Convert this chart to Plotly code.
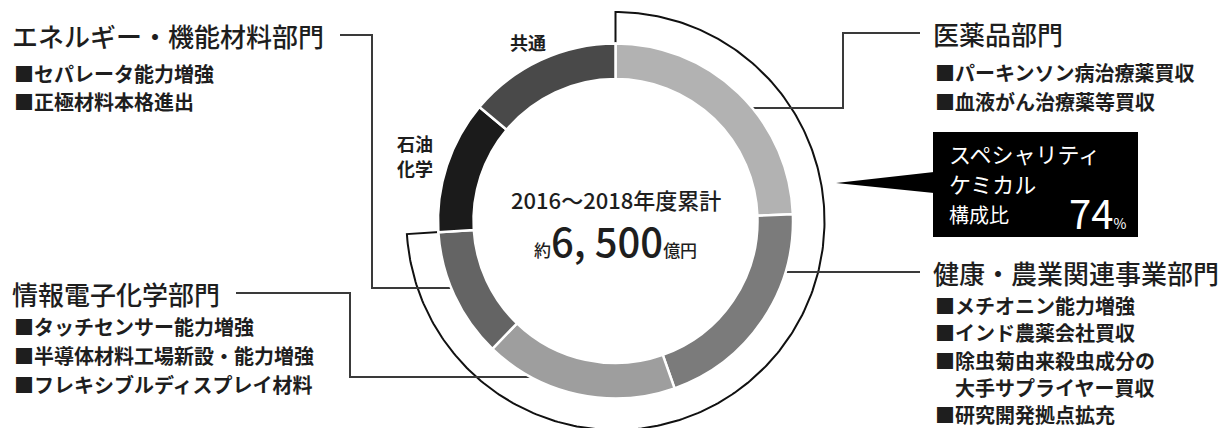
import numpy as np
import plotly.graph_objects as go

W, H = 1224, 428

# ---- data ----
segments = ["医薬品", "健康・農業関連事業", "情報電子化学", "エネルギー・機能材料", "石油化学", "共通"]
shares = [24.4, 20.2, 17.6, 11.8, 12.1, 13.9]
colors = ["#b2b2b2", "#7b7b7b", "#9e9e9e", "#646464", "#1b1b1b", "#494949"]
specialty = ["医薬品", "健康・農業関連事業", "情報電子化学", "エネルギー・機能材料"]
specialty_share_label = "74"
center_title = "2016～2018年度累計"
center_value = "6, 500"

titles = {
    "エネルギー・機能材料": "エネルギー・機能材料部門",
    "情報電子化学": "情報電子化学部門",
    "医薬品": "医薬品部門",
    "健康・農業関連事業": "健康・農業関連事業部門",
}
bullets = {
    "エネルギー・機能材料": ["■セパレータ能力増強", "■正極材料本格進出"],
    "情報電子化学": ["■タッチセンサー能力増強", "■半導体材料工場新設・能力増強", "■フレキシブルディスプレイ材料"],
    "医薬品": ["■パーキンソン病治療薬買収", "■血液がん治療薬等買収"],
    "健康・農業関連事業": ["■メチオニン能力増強", "■インド農薬会社買収", "■除虫菊由来殺虫成分の",
                       "　大手サプライヤー買収", "■研究開発拠点拡充"],
}

FONT = "Noto Sans CJK JP"
INK = "#1e1e1e"

# ---- geometry (pixels) ----
cx, cy, R = 615.5, 221.0, 177.5
hole = 0.8
rmid = R * (1 + hole) / 2
rarc = 209

fig = go.Figure()

fig.add_trace(go.Pie(
    labels=segments, values=shares, sort=False, direction="clockwise", rotation=0,
    hole=hole, textinfo="none", hoverinfo="label+percent",
    marker=dict(colors=colors, line=dict(color="white", width=2.5)),
    domain=dict(x=[(cx - R) / W, (cx + R) / W], y=[1 - (cy + R) / H, 1 - (cy - R) / H]),
    showlegend=False,
))

# bracket arc around specialty segments
spec_total = sum(s for n, s in zip(segments, shares) if n in specialty)
theta_end = spec_total / sum(shares) * 2 * np.pi
th = np.linspace(0, theta_end, 300)
ax = np.concatenate([[cx + R * np.sin(0)], cx + rarc * np.sin(th), [cx + (R - 1) * np.sin(theta_end)]])
ay = np.concatenate([[cy - R * np.cos(0)], cy - rarc * np.cos(th), [cy - (R - 1) * np.cos(theta_end)]])
fig.add_trace(go.Scatter(x=ax, y=ay, mode="lines", line=dict(color="#111", width=2),
                         hoverinfo="skip", showlegend=False, xaxis="x", yaxis="y"))

def dot_x(y, side):
    return cx + side * np.sqrt(rmid ** 2 - (y - cy) ** 2)

# leader lines: (segment, path of corner points excluding dot, dot y, side)
leaders = [
    ("医薬品", [(920, 33), (843, 33), (843, 108)], 108, 1),
    ("健康・農業関連事業", [(920, 272)], 272, 1),
    ("エネルギー・機能材料", [(340, 35), (372, 35), (372, 288)], 288, -1),
    ("情報電子化学", [(236, 293), (350, 293), (350, 377)], 377, -1),
]
for name, pts, ydot, side in leaders:
    xd = dot_x(ydot, side)
    xs = [p[0] for p in pts] + [xd]
    ys = [p[1] for p in pts] + [ydot]
    fig.add_trace(go.Scatter(x=xs, y=ys, mode="lines", line=dict(color="#3a3a3a", width=2),
                             hoverinfo="skip", showlegend=False))
    fig.add_trace(go.Scatter(x=[xd], y=[ydot], mode="markers", marker=dict(color="#111", size=8),
                             hoverinfo="skip", showlegend=False))

annotations = []

def txt(x, y, s, size, color=INK, xanchor="left", weight=400, family=FONT):
    annotations.append(dict(x=x, y=y, xref="x", yref="y", text=s,
                            showarrow=False, xanchor=xanchor, yanchor="middle",
                            font=dict(family=family, size=size, color=color, weight=weight)))

# section titles and bullets
layout_pos = {
    "エネルギー・機能材料": (10, 35, [73, 101]),
    "情報電子化学": (10, 293, [326, 355, 384]),
    "医薬品": (931, 33, [72, 101]),
    "健康・農業関連事業": (931, 272, [305, 332, 360, 387, 414]),
}
for key, (x0, yt, ybs) in layout_pos.items():
    txt(x0, yt, titles[key], 26, weight=500)
    for b, yb in zip(bullets[key], ybs):
        txt(x0 + 2, yb, b, 20, weight=700)

# small labels for non-specialty segments
txt(528, 42, "共通", 18, xanchor="center", weight=700)
txt(415, 143, "石油", 18, xanchor="center", weight=700)
txt(415, 168, "化学", 18, xanchor="center", weight=700)

# center text
txt(cx, 199, center_title, 22, xanchor="center", weight=500)
txt(cx, 240, f"約<span style='font-size:40px'>{center_value}</span>億円", 17, xanchor="center", weight=500)

# specialty callout box
shapes = [
    dict(type="rect", xref="x", yref="y", x0=933, x1=1138, y0=132, y1=237,
         fillcolor="black", line=dict(width=0), layer="above"),
    dict(type="path", xref="x", yref="y", path="M 836,183 L 934,172 L 934,193 Z",
         fillcolor="black", line=dict(width=0), layer="above"),
]
txt(947, 153, "スペシャリティ", 22, color="white")
txt(947, 183, "ケミカル", 22, color="white")
txt(947, 214, "構成比", 20, color="white")
txt(1128, 212, f"<span style='font-size:40px'>{specialty_share_label}</span>%", 14,
    color="white", xanchor="right")

fig.update_layout(
    width=W, height=H, margin=dict(l=0, r=0, t=0, b=0),
    paper_bgcolor="white", plot_bgcolor="rgba(0,0,0,0)",
    xaxis=dict(range=[0, W], visible=False, domain=[0, 1], fixedrange=True),
    yaxis=dict(range=[H, 0], visible=False, domain=[0, 1], fixedrange=True),
    annotations=annotations, shapes=shapes,
)

fig.write_html("out.html", config={"displayModeBar": False},
               post_script="document.body.style.margin='0';document.body.style.padding='0';")
